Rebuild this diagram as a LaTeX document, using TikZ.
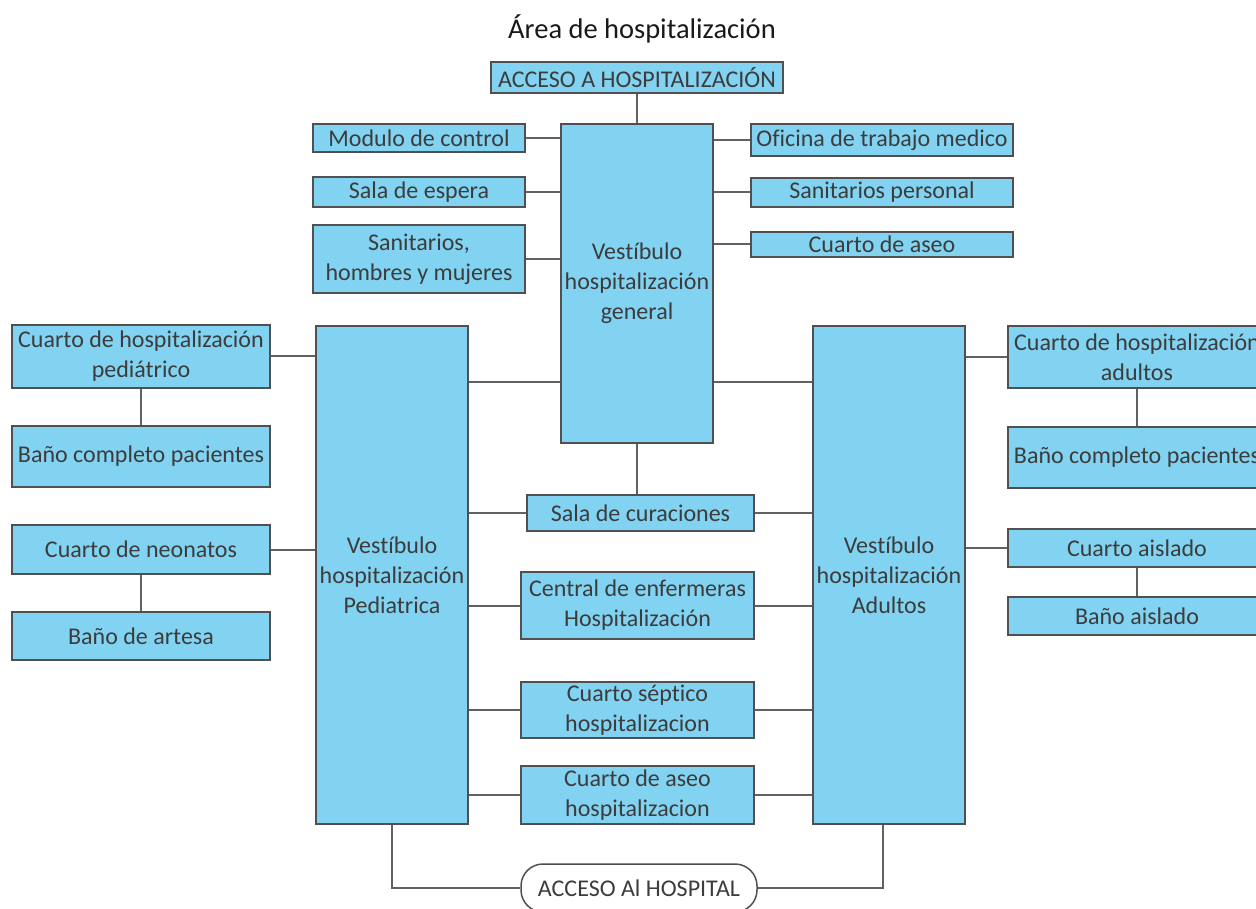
\documentclass[tikz,border=0pt]{standalone}
\usepackage{fontspec}
\setmainfont{Carlito}[Ligatures=NoCommon]
\definecolor{boxfill}{RGB}{129,211,241}
\definecolor{boxline}{RGB}{80,80,80}
\definecolor{txt}{RGB}{60,60,60}
\begin{document}
\begin{tikzpicture}[x=1pt,y=-1pt,
  box/.style={draw=boxline, line width=1.5pt, fill=boxfill, inner sep=0pt, align=center, text=txt, font=\fontsize{24}{30}\selectfont},
  conn/.style={draw=boxline!90, line width=2pt}]
\useasboundingbox (0,0) rectangle (1256,909);
\clip (0,0) rectangle (1256,909);
\node[text=black!90, font=\fontsize{28.5}{34}\selectfont] (title) at (642,29) {Área de hospitalización};
% top
\node[box, minimum width=292pt, minimum height=31pt] (acc) at (637,77.5) {ACCESO A HOSPITALIZACIÓN};
\node[box, minimum width=152pt, minimum height=319pt] (gen) at (637,283.5) {Vestíbulo\\hospitalización\\general};
\node[box, minimum width=212pt, minimum height=28pt] (mod) at (419,138) {Modulo de control};
\node[box, minimum width=212pt, minimum height=30pt] (esp) at (419,192) {Sala de espera};
\node[box, minimum width=212pt, minimum height=68pt] (san) at (419,259) {Sanitarios,\\hombres y mujeres};
\node[box, minimum width=262pt, minimum height=32pt] (ofi) at (882,140) {Oficina de trabajo medico};
\node[box, minimum width=262pt, minimum height=29pt] (sper) at (882,192.5) {Sanitarios personal};
\node[box, minimum width=262pt, minimum height=25pt] (aseo) at (882,244.5) {Cuarto de aseo};
% vestibules
\node[box, minimum width=152pt, minimum height=498pt] (ped) at (392,575) {Vestíbulo\\hospitalización\\Pediatrica};
\node[box, minimum width=152pt, minimum height=498pt] (adu) at (889,575) {Vestíbulo\\hospitalización\\Adultos};
% left
\node[box, minimum width=258pt, minimum height=63pt] (cped) at (141,356.5) {Cuarto de hospitalización\\pediátrico};
\node[box, minimum width=258pt, minimum height=61pt] (bped) at (141,456.5) {Baño completo pacientes};
\node[box, minimum width=258pt, minimum height=49pt] (neo) at (141,549.5) {Cuarto de neonatos};
\node[box, minimum width=258pt, minimum height=48pt] (art) at (141,636) {Baño de artesa};
% right
\node[box, minimum width=258pt, minimum height=62pt] (cadu) at (1137,357) {Cuarto de hospitalización\\adultos};
\node[box, minimum width=258pt, minimum height=61pt] (badu) at (1137,457.5) {Baño completo pacientes};
\node[box, minimum width=258pt, minimum height=38pt] (ais) at (1137,548) {Cuarto aislado};
\node[box, minimum width=258pt, minimum height=38pt] (bais) at (1137,616) {Baño aislado};
% middle
\node[box, minimum width=227pt, minimum height=36pt] (cur) at (640.5,513) {Sala de curaciones};
\node[box, minimum width=233pt, minimum height=67pt] (cen) at (637.5,605.5) {Central de enfermeras\\Hospitalización};
\node[box, minimum width=233pt, minimum height=56pt] (sep) at (637.5,710) {Cuarto séptico\\hospitalizacion};
\node[box, minimum width=233pt, minimum height=58pt] (ase2) at (637.5,795) {Cuarto de aseo\\hospitalizacion};
\node[draw=boxline, line width=1.5pt, fill=white, rounded corners=22pt, minimum width=236pt, minimum height=48pt, inner sep=0pt, text=txt, font=\fontsize{24}{30}\selectfont] (hosp) at (639,888) {ACCESO Al HOSPITAL};
% connectors
\draw[conn] (acc.south) -- (gen.north);
\draw[conn] (mod.east) -- (mod.east -| gen.west);
\draw[conn] (esp.east) -- (esp.east -| gen.west);
\draw[conn] (san.east) -- (san.east -| gen.west);
\draw[conn] (ofi.west) -- (ofi.west -| gen.east);
\draw[conn] (sper.west) -- (sper.west -| gen.east);
\draw[conn] (aseo.west) -- (aseo.west -| gen.east);
\coordinate (g1) at ([yshift=-98.5pt]gen.west);
\coordinate (g2) at ([yshift=-98.5pt]gen.east);
\draw[conn] (g1) -- (g1 -| ped.east);
\draw[conn] (g2) -- (g2 -| adu.west);
\draw[conn] (cped.east) -- (cped.east -| ped.west);
\draw[conn] (cped.south) -- (bped.north);
\draw[conn] (neo.east) -- (neo.east -| ped.west);
\draw[conn] (neo.south) -- (art.north);
\draw[conn] (cadu.west) -- (cadu.west -| adu.east);
\draw[conn] (cadu.south) -- (badu.north);
\draw[conn] (ais.west) -- (ais.west -| adu.east);
\draw[conn] (ais.south) -- (bais.north);
\draw[conn] (gen.south) -- (gen.south |- cur.north);
\foreach \n in {cur,cen,sep,ase2}{
  \draw[conn] (\n.west) -- (\n.west -| ped.east);
  \draw[conn] (\n.east) -- (\n.east -| adu.west);
}
\coordinate (ab) at ([xshift=-6pt]adu.south);
\draw[conn] (ped.south) -- (ped.south |- hosp.west) -- (hosp.west);
\draw[conn] (hosp.east) -- (ab |- hosp.east) -- (ab);
\end{tikzpicture}
\end{document}
